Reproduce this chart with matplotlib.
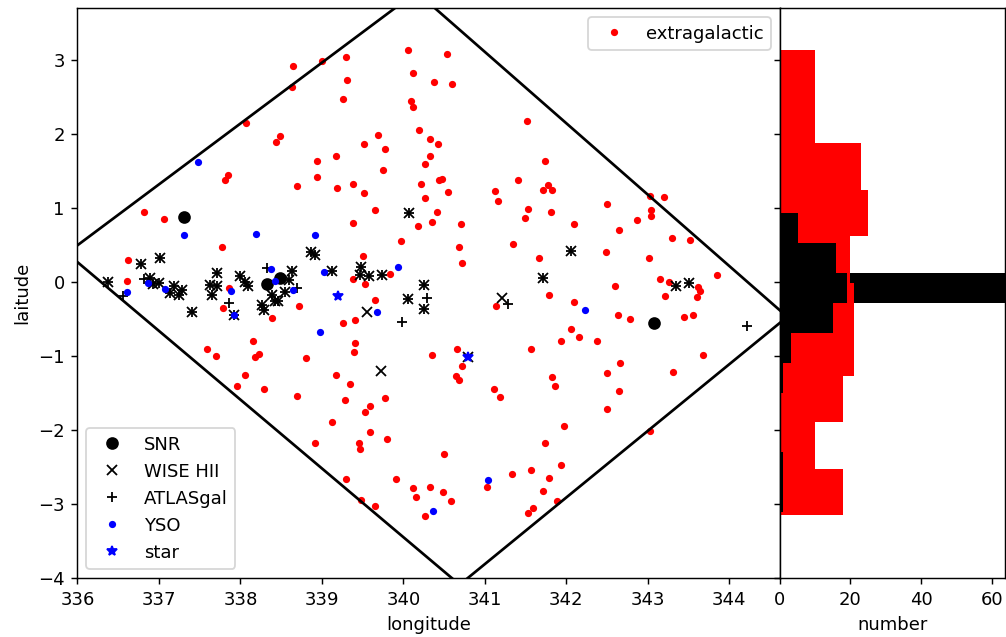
import numpy as np
import matplotlib.pyplot as plt

# ---------------------------------------------------------------------------
# source positions (galactic longitude, latitude in deg)
xgal_l = [338.64, 338.63, 339.00, 339.29, 339.31, 339.26, 338.07, 338.49, 338.44, 337.85,
          337.81, 338.69, 338.94, 338.94, 339.17, 339.18, 339.38, 339.51, 339.51, 339.69,
          339.77, 339.75, 339.65, 339.38, 339.97, 339.50, 339.38, 339.53, 339.83, 336.82,
          337.06, 337.77, 336.62, 336.61, 337.86, 340.05, 340.12, 340.09, 340.12, 340.19,
          340.33, 340.33, 340.27, 340.21, 340.27, 340.41, 340.18, 340.35, 340.37, 340.54,
          340.60, 340.43, 340.44, 340.47, 340.55, 340.71, 340.68, 340.72, 341.51, 341.74,
          341.41, 341.12, 341.16, 341.71, 341.77, 341.82, 341.53, 341.49, 341.81, 342.09,
          341.35, 341.66, 342.50, 342.65, 342.86, 343.02, 343.20, 343.04, 343.04, 343.29,
          343.52, 342.48, 343.01, 343.15, 343.26, 343.62, 343.85, 342.60, 338.72, 338.39,
          337.79, 339.26, 339.40, 339.65, 338.15, 337.59, 337.70, 338.18, 338.23, 338.80,
          339.41, 339.39, 338.05, 337.96, 338.29, 338.69, 339.17, 339.34, 339.28, 339.77,
          339.59, 339.53, 339.12, 339.59, 339.80, 338.92, 339.45, 339.47, 339.29, 339.91,
          340.12, 340.16, 340.33, 339.48, 339.65, 340.26, 340.35, 341.79, 342.09, 341.13,
          343.21, 343.60, 343.64, 342.63, 342.78, 343.44, 343.55, 342.06, 342.16, 341.93,
          342.38, 341.57, 340.66, 340.72, 340.64, 340.68, 341.11, 341.19, 341.82, 341.86,
          342.50, 342.66, 342.65, 342.50, 343.31, 343.68, 341.97, 343.03, 341.74, 340.50,
          341.33, 341.56, 341.93, 341.78, 340.48, 340.58, 341.03, 341.71, 341.89, 341.53,
          341.59]
xgal_b = [2.92, 2.64, 2.99, 3.04, 2.73, 2.48, 2.15, 1.97, 1.89, 1.45,
          1.38, 1.30, 1.63, 1.42, 1.70, 1.27, 1.33, 1.21, 1.87, 1.99,
          1.80, 1.52, 0.97, 0.80, 0.56, 0.35, 0.045, -0.02, 0.11, 0.94,
          0.85, 0.47, 0.30, 0.02, -0.08, 3.135, 2.82, 2.45, 2.37, 2.05,
          1.93, 1.71, 1.59, 1.32, 1.14, 0.94, 0.76, 0.81, 2.70, 3.08,
          2.68, 1.86, 1.38, 1.39, 1.22, 0.78, 0.48, 0.26, 2.17, 1.63,
          1.38, 1.23, 1.09, 1.25, 1.31, 1.25, 0.99, 0.86, 0.95, 0.79,
          0.51, 0.33, 1.06, 0.71, 0.84, 1.16, 1.15, 0.97, 0.89, 0.60,
          0.57, 0.41, 0.32, 0.04, 0.005, -0.07, 0.095, -0.05, -0.32, -0.49,
          -0.35, -0.56, -0.51, -0.24, -0.80, -0.91, -1.00, -1.01, -0.97, -1.03,
          -0.83, -0.94, -1.26, -1.41, -1.45, -1.54, -1.25, -1.38, -1.60, -1.57,
          -1.68, -1.76, -1.89, -2.03, -2.12, -2.17, -2.17, -2.25, -2.66, -2.66,
          -2.79, -2.91, -2.77, -2.94, -3.02, -3.16, -0.99, -0.18, -0.27, -0.32,
          -0.19, -0.20, -0.12, -0.45, -0.50, -0.47, -0.45, -0.64, -0.74, -0.80,
          -0.79, -0.91, -0.90, -1.13, -1.27, -1.32, -1.44, -1.56, -1.29, -1.41,
          -1.23, -1.09, -1.47, -1.72, -1.22, -0.99, -1.94, -2.01, -2.18, -2.32,
          -2.60, -2.54, -2.47, -2.65, -2.84, -2.96, -2.77, -2.83, -2.96, -3.12,
          -3.06]

snr_l = [337.31, 338.33, 338.48, 343.08]
snr_b = [0.875, -0.02, 0.06, -0.56]

hii_l = [336.38, 336.78, 337.01, 336.89, 336.93, 337.00, 337.18, 337.14, 337.28, 337.24,
         337.41, 337.71, 337.63, 337.71, 337.65, 337.92, 337.99, 338.06, 338.09, 338.63,
         338.60, 338.55, 338.39, 338.43, 338.27, 338.29, 338.46, 338.87, 338.92, 339.12,
         339.48, 339.47, 339.58, 339.74, 340.07, 340.05, 340.25, 340.25, 342.06, 341.71,
         343.35, 343.50, 339.55, 339.72, 341.21, 340.79]
hii_b = [-0.005, 0.25, 0.33, 0.06, -0.03, -0.01, -0.05, -0.15, -0.11, -0.17,
         -0.40, 0.12, -0.04, -0.06, -0.18, -0.45, 0.08, 0.0, -0.06, 0.15,
         0.03, -0.13, -0.18, -0.26, -0.31, -0.38, -0.25, 0.40, 0.37, 0.15,
         0.21, 0.095, 0.085, 0.095, 0.93, -0.23, -0.04, -0.37, 0.42, 0.06,
         -0.06, -0.01, -0.41, -1.20, -0.22, -1.01]

atlas_l = [336.38, 336.78, 337.01, 336.89, 336.93, 337.00, 337.18, 337.14, 337.28, 337.24,
           337.41, 337.71, 337.63, 337.71, 337.65, 337.92, 337.99, 338.06, 338.09, 338.63,
           338.60, 338.55, 338.39, 338.43, 338.27, 338.29, 338.46, 338.87, 338.92, 339.12,
           339.48, 339.47, 339.58, 339.74, 340.07, 340.05, 340.25, 340.25, 342.06, 341.71,
           343.35, 343.50, 336.56, 336.82, 337.86, 339.98, 340.29, 338.70, 341.28, 344.22,
           338.33]
atlas_b = [-0.005, 0.25, 0.33, 0.06, -0.03, -0.01, -0.05, -0.15, -0.11, -0.17,
           -0.40, 0.12, -0.04, -0.06, -0.18, -0.45, 0.08, 0.0, -0.06, 0.15,
           0.03, -0.13, -0.18, -0.26, -0.31, -0.38, -0.25, 0.40, 0.37, 0.15,
           0.21, 0.095, 0.085, 0.095, 0.93, -0.23, -0.04, -0.37, 0.42, 0.06,
           -0.06, -0.01, -0.19, 0.04, -0.28, -0.54, -0.21, -0.085, -0.30, -0.59,
           0.185]

yso_l = [337.48, 337.31, 338.19, 338.92, 339.93, 339.03, 336.61, 337.07, 337.89, 338.42,
         338.65, 337.92, 338.97, 339.67, 340.36, 336.86, 338.38, 342.23, 341.04]
yso_b = [1.62, 0.635, 0.645, 0.63, 0.21, 0.13, -0.13, -0.10, -0.12, 0.01,
         -0.11, -0.45, -0.68, -0.41, -3.10, -0.01, 0.17, -0.38, -2.68]

star_l = [339.20, 340.79]
star_b = [-0.185, -1.01]

# survey field outline (corners)
field_l = [340.16, 335.87, 340.69, 344.71, 340.16]
field_b = [3.92, 0.39, -4.09, -0.47, 3.92]

# latitude histograms (counts per bin, bottom to top)
xgal_range = (-3.155, 3.135)
xgal_counts = [18, 10, 18, 21, 21, 20, 25, 23, 10, 10]
gal_range = (-3.11, 0.932)
gal_counts_all = [1, 1, 0, 0, 1, 3, 15, 75, 16, 5]
gal_counts = [1, 1, 0, 0, 1, 3, 15, 19, 16, 5]

#============================================================================#
fig = plt.figure(figsize=(1006 / 130, 637 / 130), dpi=130)
ax = fig.add_axes([0.077, 0.0926, 0.6983, 0.8944])
axh = fig.add_axes([0.7753, 0.0926, 0.2237, 0.8944], sharey=ax)

xg, = ax.plot(xgal_l, xgal_b, 'r.', label='extragalactic')
sn, = ax.plot(snr_l, snr_b, 'ko', label='SNR')
hi, = ax.plot(hii_l, hii_b, 'kx', label='WISE HII')
at, = ax.plot(atlas_l, atlas_b, 'k+', label='ATLASgal')
ys, = ax.plot(yso_l, yso_b, 'b.', label='YSO')
st, = ax.plot(star_l, star_b, 'b*', label='star')
ax.plot(field_l, field_b, 'k-', lw=1.5)

ax.set_xlim(336.0, 344.62)
ax.set_ylim(-4.0, 3.7)
ax.set_xlabel('longitude')
ax.set_ylabel('laitude')

leg = ax.legend(handles=[sn, hi, at, ys, st], loc='lower left', numpoints=1)
ax.add_artist(leg)
ax.legend(handles=[xg], loc='upper right', numpoints=1)

# histograms
xedges = np.linspace(xgal_range[0], xgal_range[1], len(xgal_counts) + 1)
gedges = np.linspace(gal_range[0], gal_range[1], len(gal_counts) + 1)
axh.hist(gedges[:-1], bins=gedges, weights=gal_counts_all,
         orientation='horizontal', color='k')
axh.hist(xedges[:-1], bins=xedges, weights=xgal_counts,
         orientation='horizontal', color='r')
axh.hist(gedges[:-1], bins=gedges, weights=gal_counts,
         orientation='horizontal', color='k')
axh.set_xlim(0, 63.8)
axh.set_xticks([0, 20, 40, 60])
axh.set_xlabel('number')
axh.tick_params(axis='y', labelleft=False)

fig.savefig('out.png', dpi=130)
